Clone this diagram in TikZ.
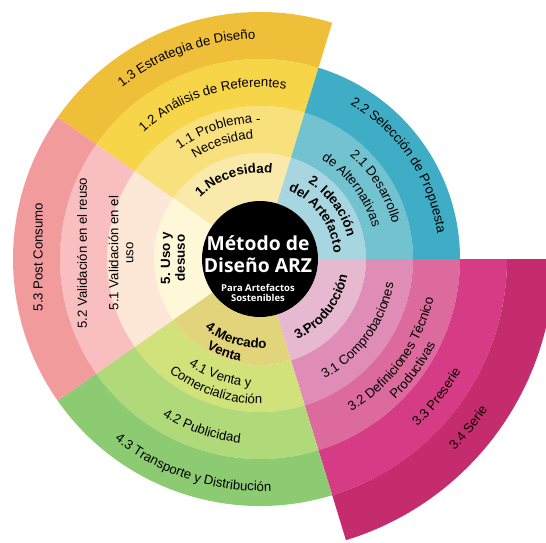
\documentclass[tikz,border=0pt]{standalone}
\usepackage{fontspec}
\usetikzlibrary{decorations.text}
\newfontfamily\lblfamily{Liberation Sans}
\newfontfamily\ctrfamily{Open Sans}
\newcommand\lblfont{\lblfamily\fontsize{7.5}{8.5}\selectfont}
\newcommand\lblbold{\lblfamily\bfseries\fontsize{7.6}{8.5}\selectfont}

% ring colours, one family per phase
\definecolor{necA}{HTML}{F9EAAC}
\definecolor{necB}{HTML}{F8E07D}
\definecolor{necC}{HTML}{F7D548}
\definecolor{necD}{HTML}{F0BF3A}
\definecolor{ideA}{HTML}{A8D6E0}
\definecolor{ideB}{HTML}{72C2D0}
\definecolor{ideC}{HTML}{3EADC5}
\definecolor{proA}{HTML}{E6B9D1}
\definecolor{proB}{HTML}{DF8DB6}
\definecolor{proC}{HTML}{DC6A9D}
\definecolor{proD}{HTML}{D63B86}
\definecolor{proE}{HTML}{C52C6D}
\definecolor{merA}{HTML}{E2D47B}
\definecolor{merB}{HTML}{D2E27B}
\definecolor{merC}{HTML}{B0D97A}
\definecolor{merD}{HTML}{8CCB71}
\definecolor{usoA}{HTML}{FEF8D8}
\definecolor{usoB}{HTML}{FDE7D6}
\definecolor{usoC}{HTML}{F9BFC0}
\definecolor{usoD}{HTML}{F29B9D}

\tikzset{
  cw text/.style={decorate, decoration={text along path, text align=center, text={|\lblfont|#1}}},
  cw bold/.style={decorate, decoration={text along path, text align=center, text={|\lblbold|#1}}},
  lbl/.style={font=\lblfont, align=center, inner sep=0pt},
  lblb/.style={font=\lblbold, align=center, inner sep=0pt},
  hubtitle/.style={font=\ctrfamily\bfseries\fontsize{11}{12.5}\selectfont, text=white, inner sep=0pt},
  hubsub/.style={font=\ctrfamily\bfseries\fontsize{5.4}{6}\selectfont, text=white, inner sep=0pt},
}

% text on an arc round the hub: clockwise (tops out) or counter-clockwise (tops in)
\newcommand\cwlabel[4][cw text]{\path[#1={#4}] (#2+50:#3) arc[start angle=#2+50, end angle=#2-50, radius=#3];}
\newcommand\ccwlabel[4][cw text]{\path[#1={#4}] (#2-50:#3) arc[start angle=#2-50, end angle=#2+50, radius=#3];}

\begin{document}
\begin{tikzpicture}[x=0.02cm, y=0.02cm]
    \clip (-260,-283) rectangle (286,259);
    % 1. Necesidad
    \foreach \rin/\rout/\col in {58/106/necA, 106/153/necB, 153/200/necC, 200/247/necD}{
        \fill [\col] (73:\rout) arc[start angle=73, end angle=145, radius=\rout]
            -- (145:\rin) arc[start angle=145, end angle=73, radius=\rin] -- cycle;
    }
    % 2. Ideacion
    \foreach \rin/\rout/\col in {58/106/ideA, 106/153/ideB, 153/200/ideC}{
        \fill [\col] (0:\rout) arc[start angle=0, end angle=73, radius=\rout]
            -- (73:\rin) arc[start angle=73, end angle=0, radius=\rin] -- cycle;
    }
    % 3. Produccion
    \foreach \rin/\rout/\col in {58/106/proA, 106/153/proB, 153/200/proC, 200/247/proD, 247/294/proE}{
        \fill [\col] (-73:\rout) arc[start angle=-73, end angle=0, radius=\rout]
            -- (0:\rin) arc[start angle=0, end angle=-73, radius=\rin] -- cycle;
    }
    % 4. Mercado
    \foreach \rin/\rout/\col in {58/106/merA, 106/153/merB, 153/200/merC, 200/247/merD}{
        \fill [\col] (215:\rout) arc[start angle=215, end angle=287, radius=\rout]
            -- (287:\rin) arc[start angle=287, end angle=215, radius=\rin] -- cycle;
    }
    % 5. Uso
    \foreach \rin/\rout/\col in {58/106/usoA, 106/153/usoB, 153/200/usoC, 200/247/usoD}{
        \fill [\col] (145:\rout) arc[start angle=145, end angle=215, radius=\rout]
            -- (215:\rin) arc[start angle=215, end angle=145, radius=\rin] -- cycle;
    }

    % hub
    \fill [black] (0,0) circle[radius=58];
    \node [hubtitle, anchor=base] (title1) at (-2,9) {Método de};
    \node [hubtitle, anchor=base] (title2) at (-2,-13) {Diseño ARZ};
    \node [hubsub, anchor=base] (sub1) at (-2,-32) {Para Artefactos};
    \node [hubsub, anchor=base] (sub2) at (-2,-42) {Sostenibles};

    % labels, phase 1
    \cwlabel[cw bold]{108}{86}{1.Necesidad}
    \cwlabel{108}{136}{1.1 Problema -}
    \cwlabel{108}{120}{Necesidad}
    \cwlabel{107}{172}{1.2 Análisis de Referentes}
    \cwlabel{110}{220}{1.3 Estrategia de Diseño}
    % phase 2
    \cwlabel[cw bold]{36}{90}{2. Ideación}
    \cwlabel[cw bold]{36}{74}{del Artefacto}
    \cwlabel{32}{137}{2.1 Desarrollo}
    \cwlabel{37}{117}{de Alternativas}
    \cwlabel{34}{179}{2.2 Selección de Propuesta}
    % phase 3
    \ccwlabel[cw bold]{-38}{89}{3.Producción}
    \ccwlabel{-36}{136}{3.1 Comprobaciones}
    \ccwlabel{-36}{178}{3.2 Definiciones Técnico}
    \ccwlabel{-36}{195}{Productivas}
    \ccwlabel{-38}{230}{3.3 Preserie}
    \ccwlabel{-39}{273}{3.4 Serie}
    % phase 4
    \ccwlabel[cw bold]{253}{89}{4.Mercado}
    \ccwlabel[cw bold]{249}{104}{Venta}
    \ccwlabel{251}{128}{4.1 Venta y}
    \ccwlabel{251}{145}{Comercialización}
    \ccwlabel{251}{185}{4.2 Publicidad}
    \ccwlabel{252}{232}{4.3 Transporte y Distribución}
    % phase 5
    \node [lblb, rotate=90] (uso) at (-87,1) {5. Uso y\\desuso};
    \node [lbl, rotate=90] (uso1) at (-139,6) {5.1 Validación en el\\uso};
    \node [lbl, rotate=90] (uso2) at (-178,6) {5.2 Validación en el reuso};
    \node [lbl, rotate=90] (uso3) at (-222,2) {5.3 Post Consumo};
\end{tikzpicture}
\end{document}
